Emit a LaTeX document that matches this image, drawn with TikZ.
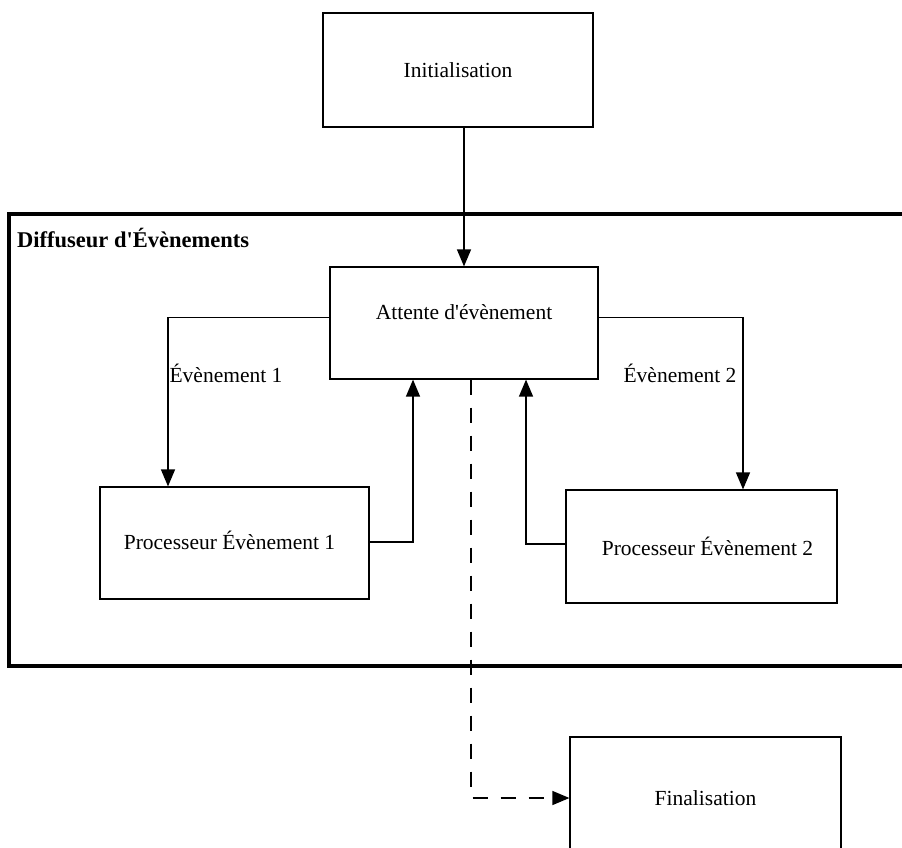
\documentclass[tikz,border=0pt]{standalone}
\usepackage{fontspec}
\setmainfont{Liberation Serif}
\usetikzlibrary{arrows.meta}

\tikzset{
  box/.style={draw, line width=1.2pt, fill=white, inner sep=0pt,
              font=\fontsize{21.5}{24}\selectfont},
  conn/.style={line width=1.3pt},
  arr/.style={conn, -{Triangle[width=14pt,length=17pt]}},
  dasharr/.style={arr, dash pattern=on 15pt off 13pt},
  lbl/.style={inner sep=0pt, font=\fontsize{21.5}{24}\selectfont},
  grouplbl/.style={inner sep=0pt, anchor=west, font=\fontsize{22.5}{26}\selectfont\bfseries},
}

\begin{document}
\begin{tikzpicture}[x=1pt, y=-1pt]
  % page area: everything outside is cut off
  \path[use as bounding box, clip] (0,0) rectangle (902,847);
  \fill[white] (0,0) rectangle (902,847);

  % event dispatcher frame (open towards the right edge)
  \draw[line width=3.2pt] (9,214) rectangle (930,666);
  \node[grouplbl] (grp) at (17,238) {Diffuseur d\textquotesingle Évènements};

  % boxes
  \node[box, minimum width=270pt, minimum height=114pt] (init) at (458,70) {Initialisation};
  \node[box, minimum width=268pt, minimum height=112pt,
        text height=15pt, text depth=23pt] (att) at (464,323) {Attente d\textquotesingle évènement};
  \node[box, minimum width=269pt, minimum height=112pt] (p1) at (234.5,543)
       {\raisebox{6pt}{Processeur Évènement 1}\hspace*{10pt}};
  \node[box, minimum width=271pt, minimum height=113pt] (p2) at (701.5,546.5)
       {\hspace*{12pt}Processeur Évènement 2};
  \node[box, minimum width=271pt, minimum height=122pt] (fin) at (705.5,798)
       {\raisebox{-2pt}{Finalisation}};

  % connectors
  \draw[arr] (att.north |- init.south) -- (att.north);
  \draw[arr] ([yshift=5.5pt]att.west) -| ([xshift=-66.5pt]p1.north);
  \draw[arr] ([yshift=1pt]p1.east) -| ([xshift=-51pt]att.south);
  \draw[arr] ([yshift=5.5pt]att.east) -| ([xshift=41.5pt]p2.north);
  \draw[arr] ([yshift=2.5pt]p2.west) -| ([xshift=62pt]att.south);
  \draw[dasharr] ([xshift=7pt]att.south) |- (fin.west);

  % connector labels
  \node[lbl] (e1) at (226,373) {Évènement 1};
  \node[lbl] (e2) at (680,373) {Évènement 2};
\end{tikzpicture}
\end{document}
